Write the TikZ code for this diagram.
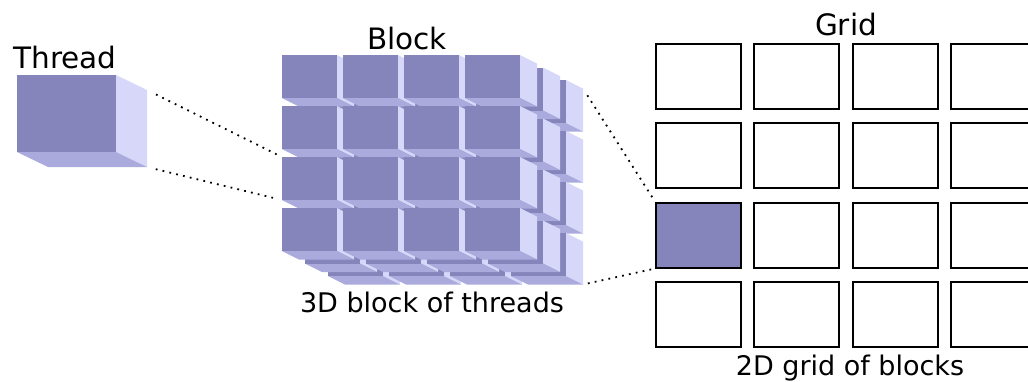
\documentclass[tikz,border=0pt]{standalone}
\usepackage{fontspec}
\setmainfont{DejaVu Sans}
\usetikzlibrary{calc}
\definecolor{cubefront}{RGB}{133,133,187}
\definecolor{cubeside}{RGB}{215,215,250}
\definecolor{cubebase}{RGB}{170,170,221}

% one cube: x, y of the front face's top-left corner, width, height, depth offset (x, y)
\newcommand{\threadcube}[6]{%
  \fill[cubeside] (#1+#3,#2) -- ++(#5,#6) -- ++(0,#4) -- ++(-#5,-#6) -- cycle;
  \fill[cubebase] (#1,#2+#4) -- ++(#3,0) -- ++(#5,#6) -- ++(-#3,0) -- cycle;
  \fill[cubefront] (#1,#2) rectangle ++(#3,#4);
}

\begin{document}
\begin{tikzpicture}[x=1pt, y=-1pt,
    title/.style={font=\fontsize{29.5}{34}\selectfont, anchor=base},
    caption/.style={font=\fontsize{27}{32}\selectfont, anchor=base},
    cell/.style={draw, line width=1.9pt, minimum width=85pt, minimum height=65pt, inner sep=0pt},
    link/.style={line width=1.8pt, dash pattern=on 1.8pt off 5.2pt}
  ]
  \useasboundingbox (0,0) rectangle (1028,381);

  % single thread
  \threadcube{17}{75}{99}{77}{31}{15}
  \coordinate (thread-top) at (147,90);
  \coordinate (thread-bot) at (147,167);
  \node[title] (thread) at (65,68) {Thread};

  % 4x4x3 block, back layer first
  \foreach \l in {2,1,0}
    \foreach \r in {0,...,3}
      \foreach \c in {0,...,3}{
        \pgfmathsetmacro\cx{282+61*\c+23*\l}
        \pgfmathsetmacro\cy{55+51*\r+12.5*\l}
        \threadcube{\cx}{\cy}{55}{43}{17}{8.5}
      }
  \coordinate (block-in-top) at (282,157);
  \coordinate (block-in-bot) at (282,200);
  \coordinate (block-out-top) at (583,88.5);
  \coordinate (block-out-bot) at (583,284.5);
  \node[title] (block) at (407,49) {Block};
  \node[caption] (blockcap) at (432,312) {3D block of threads};

  % 4x4 grid of blocks
  \foreach \r in {0,...,3}
    \foreach \c in {0,...,3}{
      \ifnum\r\c=20 \def\cellfill{cubefront}\else\def\cellfill{white}\fi
      \node[cell, fill=\cellfill] (cell-\r-\c) at ({698.5+98.3*\c},{76.5+79.3*\r}) {};
    }
  \node[title] (grid) at (846,35) {Grid};
  \node[caption] (gridcap) at (850,375) {2D grid of blocks};

  % dotted links
  \draw[link, shorten <=10pt, shorten >=6pt] (thread-top) -- (block-in-top);
  \draw[link, shorten <=9pt, shorten >=6pt] (thread-bot) -- (block-in-bot);
  \draw[link, shorten <=8pt, shorten >=4pt] (block-out-top) -- (cell-2-0.north west);
  \draw[link, shorten <=5pt, shorten >=4pt] (block-out-bot) -- (cell-2-0.south west);
\end{tikzpicture}
\end{document}
